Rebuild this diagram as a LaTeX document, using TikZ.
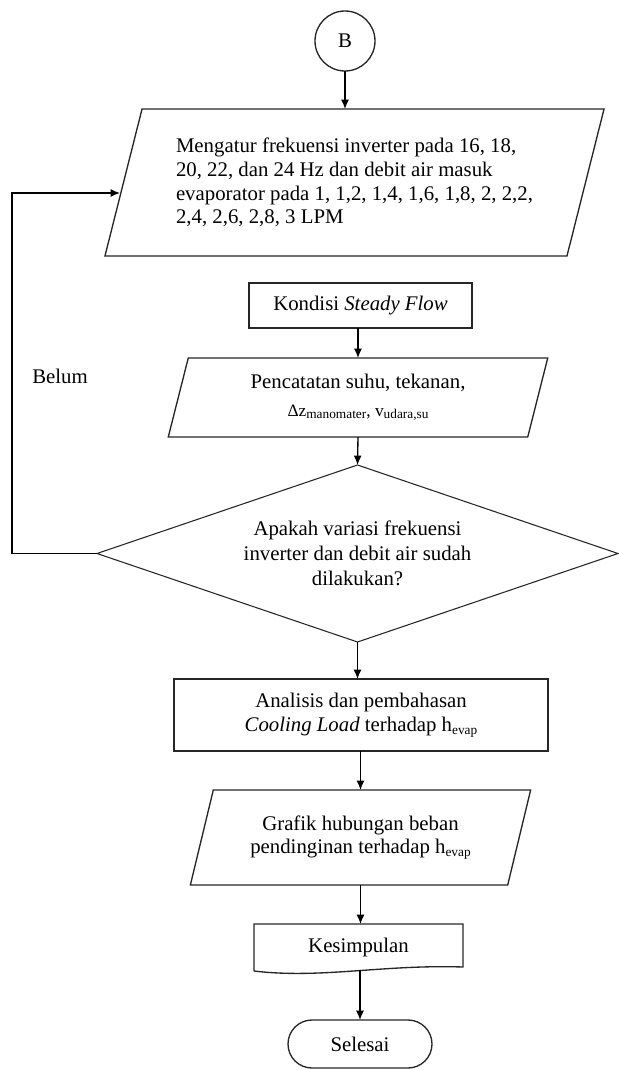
\documentclass[tikz,border=0pt]{standalone}
\usepackage{fontspec}
\setmainfont{Liberation Serif}
\usetikzlibrary{arrows.meta}
\newcommand\fs{\fontsize{15.6pt}{17.8pt}\selectfont}
\newcommand\subtxt[1]{\raisebox{-2pt}{\fontsize{10pt}{11pt}\selectfont #1}}
\newcommand\parashape[2]{\draw[shapeline] ([xshift=#2]#1.north west) -- ([xshift=#2]#1.north east) -- ([xshift=-#2]#1.south east) -- ([xshift=-#2]#1.south west) -- cycle;}
\begin{document}
\begin{tikzpicture}[x=0.75pt,y=-0.75pt,
  txt/.style={font=\fs, align=center, inner sep=0pt, outer sep=0pt},
  shapeline/.style={draw=black!85, line width=1pt},
  boxnode/.style={txt, draw=black!85, line width=1pt},
  ghost/.style={txt, draw=none},
  arrow/.style={draw=black, line width=1pt, -{Latex[length=7pt,width=6pt]}}]
\useasboundingbox (0,0) rectangle (618,1070);
% nodes
\node[txt, draw=black!85, line width=1pt, circle, minimum size=45pt] (B) at (345,41) {B};
\node[ghost, minimum width=346.5pt, minimum height=110.25pt, align=left] (p1) at (354.5,182.5)
  {Mengatur frekuensi inverter pada 16, 18,\\20, 22, dan 24 Hz dan debit air masuk\\evaporator pada 1, 1,2, 1,4, 1,6, 1,8, 2, 2,2,\\2,4, 2,6, 2,8, 3 LPM};
\parashape{p1}{13.9pt}
\node[boxnode, minimum width=167.25pt, minimum height=33.75pt] (kon) at (360.5,305.5) {Kondisi \textit{Steady Flow}};
\node[ghost, minimum width=269.6pt, minimum height=59.25pt] (p2) at (358,397.5)
  {Pencatatan suhu, tekanan,\\[3pt]{\fontsize{13pt}{14pt}\selectfont Δz\subtxt{manomater}, v\subtxt{udara,su}}};
\parashape{p2}{7.5pt}
\node[ghost, minimum width=390.75pt, minimum height=132.75pt, font=\fontsize{15.6pt}{18.75pt}\selectfont] (dia) at (357.5,553.5)
  {Apakah variasi frekuensi\\inverter dan debit air sudah\\dilakukan?};
\draw[draw=black!85, line width=0.8pt] (dia.north) -- (dia.east) -- (dia.south) -- (dia.west) -- cycle;
\node[boxnode, minimum width=280.5pt, minimum height=54pt] (ana) at (361,715)
  {Analisis dan pembahasan\\\textit{Cooling Load} terhadap h\subtxt{evap}};
\node[ghost, minimum width=238pt, minimum height=71.25pt] (gra) at (360.5,837.5)
  {Grafik hubungan beban\\pendinginan terhadap h\subtxt{evap}};
\parashape{gra}{8.6pt}
\node[ghost, minimum width=156.75pt, minimum height=35.25pt] (kes) at (358.5,947.5) {Kesimpulan};
\draw[shapeline] (kes.south west) -- (kes.north west) -- (kes.north east) -- ([yshift=3pt]kes.south east)
  .. controls +(-60pt,2pt) and +(50pt,-6pt) .. (kes.south west);
\node[boxnode, minimum width=108pt, minimum height=36pt, rounded corners=18pt] (sel) at (360,1044) {Selesai};
\node[txt] (belum) at (60,376) {Belum};
% connectors
\coordinate (c1) at (12,553.5);
\coordinate (c2) at (12,193);
\coordinate (p1in) at (120,193);
\draw[arrow] (B.south) -- (B.south |- p1.north);
\draw[arrow] (p2.north |- kon.south) -- (p2.north);
\draw[arrow] (p2.south) -- (dia.north);
\draw[arrow] (dia.south) -- (dia.south |- ana.north);
\draw[arrow] (ana.south -| gra.north) -- (gra.north);
\draw[arrow] (gra.south) -- (gra.south |- kes.north);
\draw[arrow] ([yshift=1pt]kes.south -| sel.north) -- (sel.north);
\draw[arrow] (dia.west) -- (c1) -- (c2) -- (p1in);
\end{tikzpicture}
\end{document}
